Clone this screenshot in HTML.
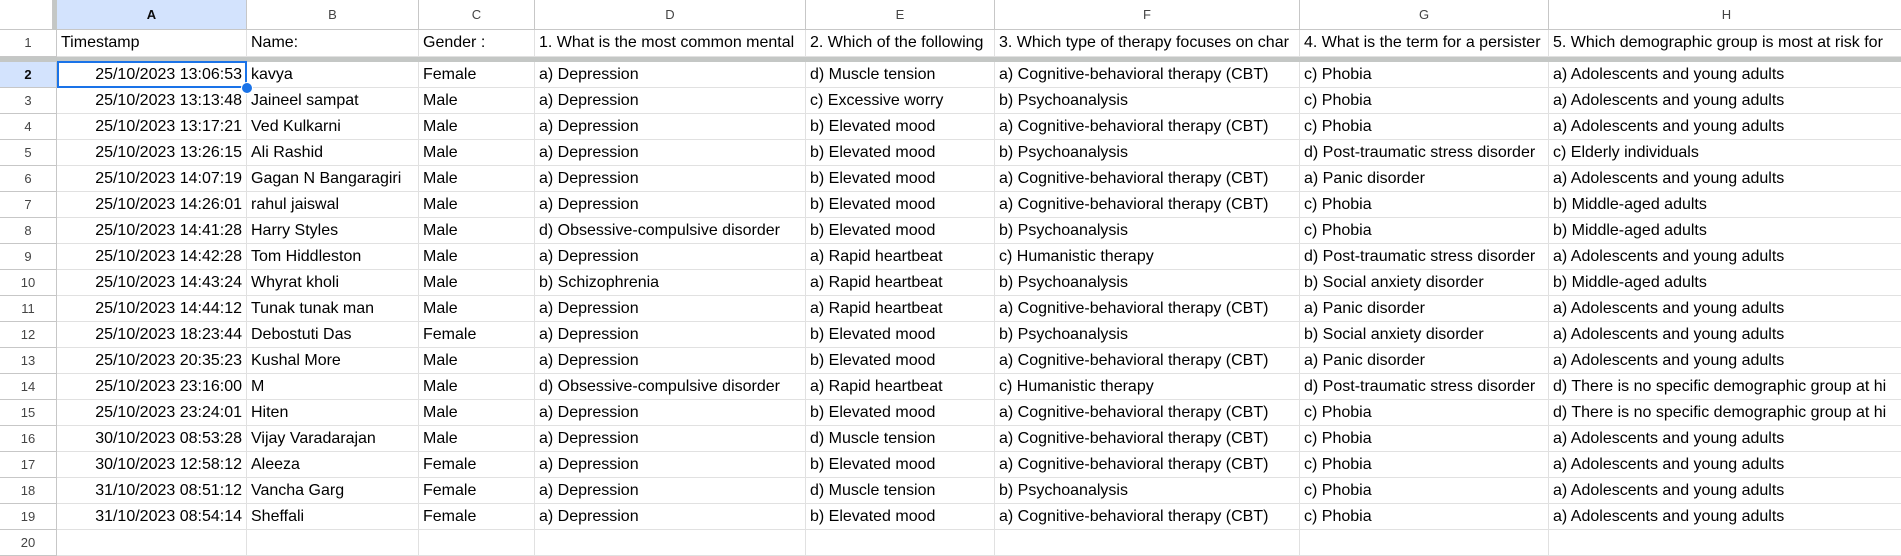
<!DOCTYPE html>
<html><head><meta charset="utf-8">
<style>
body{margin:0;width:1901px;height:545px;overflow:hidden;background:#fff;font-family:"Liberation Sans",Arial,sans-serif;position:relative}
.c{position:absolute;box-sizing:border-box;border-right:1px solid #e1e1e1;border-bottom:1px solid #e1e1e1;overflow:hidden;white-space:nowrap;font-size:16px;color:#000;line-height:25px;padding:0 4px}
.h{color:#444;font-size:13px;text-align:center;line-height:29px;border-color:#c7c7c7;padding:0}
.rn{color:#444;font-size:13px;text-align:center;border-color:#c7c7c7;padding:0}
.sel{background:#d3e3fd;font-weight:bold;color:#0b0b0b}
.r{text-align:right}
</style></head><body>
<div id="sheet"></div>
<script>
const colLetters=["A","B","C","D","E","F","G","H"];
const colX=[57,247,419,535,806,995,1300,1549,1905];
const headerRow=["Timestamp","Name:","Gender :","1. What is the most common mental","2. Which of the following","3. Which type of therapy focuses on char","4. What is the term for a persister","5. Which demographic group is most at risk for"];
const rows=[
["25/10/2023 13:06:53","kavya","Female","a) Depression","d) Muscle tension","a) Cognitive-behavioral therapy (CBT)","c) Phobia","a) Adolescents and young adults"],
["25/10/2023 13:13:48","Jaineel sampat","Male","a) Depression","c) Excessive worry","b) Psychoanalysis","c) Phobia","a) Adolescents and young adults"],
["25/10/2023 13:17:21","Ved Kulkarni","Male","a) Depression","b) Elevated mood","a) Cognitive-behavioral therapy (CBT)","c) Phobia","a) Adolescents and young adults"],
["25/10/2023 13:26:15","Ali Rashid","Male","a) Depression","b) Elevated mood","b) Psychoanalysis","d) Post-traumatic stress disorder","c) Elderly individuals"],
["25/10/2023 14:07:19","Gagan N Bangaragiri","Male","a) Depression","b) Elevated mood","a) Cognitive-behavioral therapy (CBT)","a) Panic disorder","a) Adolescents and young adults"],
["25/10/2023 14:26:01","rahul jaiswal","Male","a) Depression","b) Elevated mood","a) Cognitive-behavioral therapy (CBT)","c) Phobia","b) Middle-aged adults"],
["25/10/2023 14:41:28","Harry Styles","Male","d) Obsessive-compulsive disorder","b) Elevated mood","b) Psychoanalysis","c) Phobia","b) Middle-aged adults"],
["25/10/2023 14:42:28","Tom Hiddleston","Male","a) Depression","a) Rapid heartbeat","c) Humanistic therapy","d) Post-traumatic stress disorder","a) Adolescents and young adults"],
["25/10/2023 14:43:24","Whyrat kholi","Male","b) Schizophrenia","a) Rapid heartbeat","b) Psychoanalysis","b) Social anxiety disorder","b) Middle-aged adults"],
["25/10/2023 14:44:12","Tunak tunak man","Male","a) Depression","a) Rapid heartbeat","a) Cognitive-behavioral therapy (CBT)","a) Panic disorder","a) Adolescents and young adults"],
["25/10/2023 18:23:44","Debostuti Das","Female","a) Depression","b) Elevated mood","b) Psychoanalysis","b) Social anxiety disorder","a) Adolescents and young adults"],
["25/10/2023 20:35:23","Kushal More","Male","a) Depression","b) Elevated mood","a) Cognitive-behavioral therapy (CBT)","a) Panic disorder","a) Adolescents and young adults"],
["25/10/2023 23:16:00","M","Male","d) Obsessive-compulsive disorder","a) Rapid heartbeat","c) Humanistic therapy","d) Post-traumatic stress disorder","d) There is no specific demographic group at hi"],
["25/10/2023 23:24:01","Hiten","Male","a) Depression","b) Elevated mood","a) Cognitive-behavioral therapy (CBT)","c) Phobia","d) There is no specific demographic group at hi"],
["30/10/2023 08:53:28","Vijay Varadarajan","Male","a) Depression","d) Muscle tension","a) Cognitive-behavioral therapy (CBT)","c) Phobia","a) Adolescents and young adults"],
["30/10/2023 12:58:12","Aleeza","Female","a) Depression","b) Elevated mood","a) Cognitive-behavioral therapy (CBT)","c) Phobia","a) Adolescents and young adults"],
["31/10/2023 08:51:12","Vancha Garg","Female","a) Depression","d) Muscle tension","b) Psychoanalysis","c) Phobia","a) Adolescents and young adults"],
["31/10/2023 08:54:14","Sheffali","Female","a) Depression","b) Elevated mood","a) Cognitive-behavioral therapy (CBT)","c) Phobia","a) Adolescents and young adults"]
];
const S=document.getElementById('sheet');
function box(x,y,w,h,cls,txt){const d=document.createElement('div');d.className='c '+cls;d.style.left=x+'px';d.style.top=y+'px';d.style.width=w+'px';d.style.height=h+'px';d.textContent=txt;S.appendChild(d);return d;}
let e=box(0,0,53,30,'h','');


e=box(53,0,4,30,'','');e.style.background='#c4c7c5';e.style.border='none';


colLetters.forEach((L,i)=>{
  const d=box(colX[i],0,colX[i+1]-colX[i],30,'h'+(i==0?' sel':''),L);
  
  
});
function rowTop(r){return r==1?30:62+(r-2)*26;}
for(let r=1;r<=20;r++){
  const y=rowTop(r),h=r==1?27:26;
  const d=box(0,y,57,h,'rn'+(r==2?' sel':''),String(r));
  d.style.lineHeight=(h-1)+'px';
  
  
  const vals=r==1?headerRow:(r<=19?rows[r-2]:["","","","","","","",""]);
  vals.forEach((v,i)=>{
    const c=box(colX[i],y,colX[i+1]-colX[i],h,(r>1&&i==0)?'r':'',v);
    c.style.lineHeight=(h-1)+'px';
    
    
  });
}
e=box(0,57,1901,5,'','');e.style.background='#c4c7c5';e.style.border='none';


e=document.createElement('div');
e.style.cssText='position:absolute;left:57px;top:61px;width:190px;height:27px;border:2px solid #1a73e8;box-sizing:border-box';


S.appendChild(e);
e=document.createElement('div');
e.style.cssText='position:absolute;left:241px;top:82px;width:10px;height:10px;border-radius:50%;background:#1a73e8;border:1px solid #fff';


S.appendChild(e);
</script>
</body></html>
